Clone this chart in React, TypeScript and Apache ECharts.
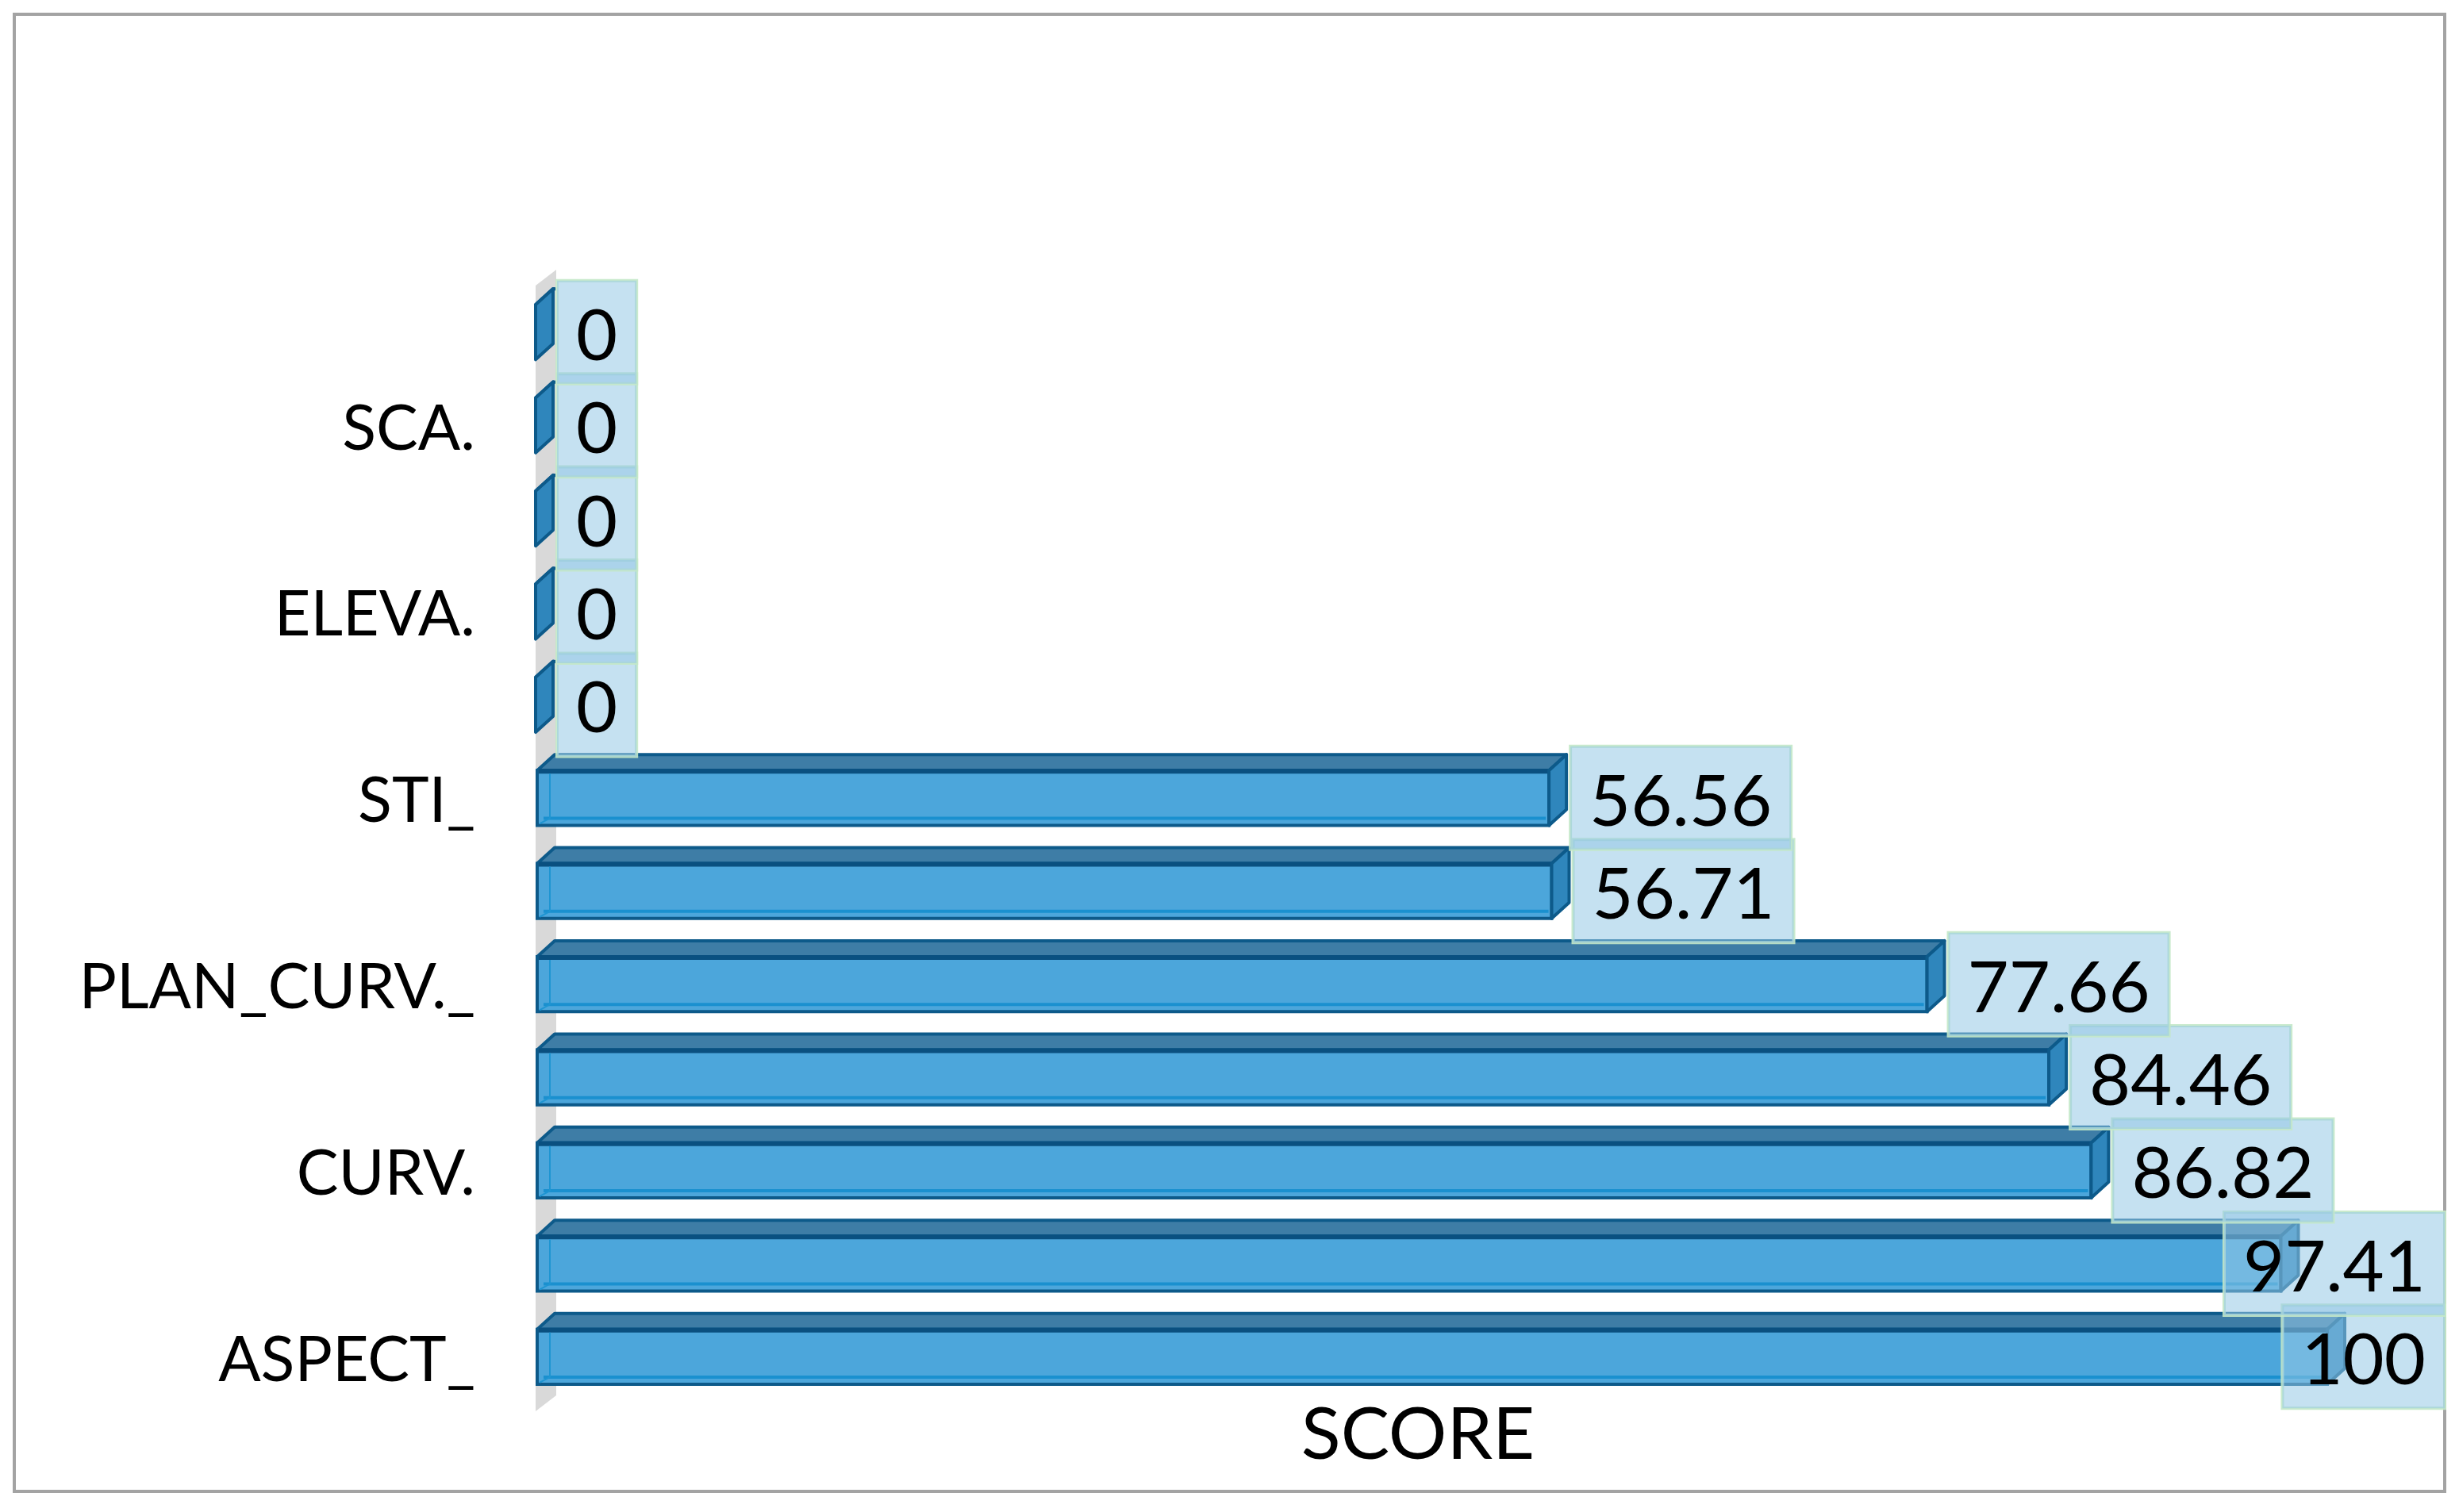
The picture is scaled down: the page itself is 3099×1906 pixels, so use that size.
import React, { useEffect, useRef } from "react";
import * as echarts from "echarts";

const CATEGORIES = ["ASPECT_", "", "CURV.", "", "PLAN_CURV._", "", "STI_", "", "ELEVA.", "", "SCA.", ""];
const SCORES = [100, 97.41, 86.82, 84.46, 77.66, 56.71, 56.56, 0, 0, 0, 0, 0];
const AXIS_NAME = "SCORE";

const FONT = "Lato";
const DX = 22;
const DY = 20;
const DARK = "#0d5a8a";
const LABEL_FONT_SIZE = 90;

let measureCtx: CanvasRenderingContext2D | null = null;
function measure(text: string): number {
  if (!measureCtx) {
    const c = document.createElement("canvas");
    measureCtx = c.getContext("2d");
  }
  if (!measureCtx) return text.length * LABEL_FONT_SIZE * 0.55;
  measureCtx.font = `${LABEL_FONT_SIZE}px ${FONT}`;
  return measureCtx.measureText(text).width;
}

export default function App() {
  const ref = useRef<HTMLDivElement>(null);

  useEffect(() => {
    document.body.style.margin = "0";
    if (!ref.current) return;
    const chart = echarts.init(ref.current, null, { renderer: "svg" });

    const data = SCORES.map((v, i) => [v, i]);

    const barItem = (params: any, api: any) => {
      const i = api.value(1);
      const v = api.value(0);
      const p1 = api.coord([v, i]);
      const p0 = api.coord([0, i]);
      const x0 = p0[0] + 2;
      const x1 = p1[0];
      const yc = p1[1];
      const band = api.size([0, 1])[1];
      const h = band * 0.59;
      const top = yc - h / 2;
      const bot = yc + h / 2;
      const children: any[] = [];
      children.push({
        type: "polygon",
        shape: { points: [[x0, top], [x0 + DX, top - DY], [x1 + DX, top - DY], [x1, top]] },
        style: { fill: "#3e7da6", stroke: DARK, lineWidth: 4, lineJoin: "round" },
      });
      if (x1 - x0 > 0.5) {
        children.push({
          type: "rect",
          shape: { x: x0, y: top, width: x1 - x0, height: h },
          style: { fill: "#4ca6db", stroke: DARK, lineWidth: 4 },
        });
        children.push({
          type: "line",
          shape: { x1: x0 + 2, y1: top + 1, x2: x1, y2: top + 1 },
          style: { stroke: "#0a5080", lineWidth: 6 },
        });
        children.push({
          type: "line",
          shape: { x1: x0 + 8, y1: bot - 9, x2: x1 - 4, y2: bot - 9 },
          style: { stroke: "#1a90cf", lineWidth: 4 },
        });
        children.push({
          type: "polyline",
          shape: { points: [[x0 + 16, top + 4], [x0 + 16, bot - 9], [x0 + 3, bot - 2]] },
          style: { stroke: "#1e95d2", lineWidth: 2, fill: null },
        });
      }
      children.push({
        type: "polygon",
        shape: { points: [[x1, top], [x1 + DX, top - DY], [x1 + DX, bot - DY], [x1, bot]] },
        style: { fill: "#2f86bc", stroke: DARK, lineWidth: 4, lineJoin: "round" },
      });
      return { type: "group", children };
    };

    const wallItem = (params: any) => {
      const cs = params.coordSys;
      const x = cs.x;
      const t = cs.y;
      const b = cs.y + cs.height + 10;
      return {
        type: "polygon",
        shape: { points: [[x, t], [x + DX + 4, t - DY], [x + DX + 4, b - DY], [x, b]] },
        style: { fill: "#d9d9d9" },
      };
    };

    const labelItem = (params: any, api: any) => {
      const i = api.value(1);
      const v = api.value(0);
      const p1 = api.coord([v, i]);
      const cs = params.coordSys;
      const txt = String(v);
      const w = measure(txt);
      const padX = 24;
      const padY = 20;
      let left = p1[0] + DX + 5;
      const limit = cs.x + cs.width + 148;
      if (left + w + 2 * padX > limit) left = limit - w - 2 * padX;
      return {
        type: "text",
        style: {
          text: txt,
          x: left,
          y: p1[1],
          align: "left",
          verticalAlign: "middle",
          fontSize: LABEL_FONT_SIZE,
          fontFamily: FONT,
          fill: "#000",
          backgroundColor: "rgba(150,200,230,0.55)",
          borderColor: "rgba(195,232,200,0.9)",
          borderWidth: 2,
          padding: [padY, padX, padY, padX],
        },
      };
    };

    chart.setOption({
      animation: false,
      backgroundColor: "#ffffff",
      graphic: [
        {
          type: "rect",
          shape: { x: 18, y: 18, width: 3063, height: 1862 },
          style: { fill: "none", stroke: "#a3a3a3", lineWidth: 4 },
          z: 0,
        },
      ],
      grid: { left: 675, right: 166, top: 360, bottom: 137, containLabel: false },
      xAxis: {
        type: "value",
        min: 0,
        max: 100,
        axisLine: { show: false },
        axisTick: { show: false },
        axisLabel: { show: false },
        splitLine: { show: false },
        name: AXIS_NAME,
        nameLocation: "middle",
        nameGap: -12,
        nameTextStyle: { fontSize: 92, fontFamily: FONT, color: "#000", padding: [0, 34, 0, 0] },
      },
      yAxis: {
        type: "category",
        data: CATEGORIES,
        axisLine: { show: false },
        axisTick: { show: false },
        splitLine: { show: false },
        axisLabel: {
          interval: 0,
          fontSize: 79,
          fontFamily: FONT,
          color: "#000",
          margin: 76,
          padding: [20, 0, 0, 0],
        },
      },
      series: [
        {
          type: "custom",
          name: "wall",
          data: [[0, 0]],
          encode: { x: 0, y: 1 },
          renderItem: wallItem,
          clip: false,
          z: 1,
          silent: true,
        },
        {
          type: "custom",
          name: "bars",
          data,
          encode: { x: 0, y: 1 },
          renderItem: barItem,
          clip: false,
          z: 2,
        },
        {
          type: "custom",
          name: "labels",
          data,
          encode: { x: 0, y: 1 },
          renderItem: labelItem,
          clip: false,
          z: 3,
        },
      ],
    });

    return () => chart.dispose();
  }, []);

  return (
    <div
      ref={ref}
      style={{ position: "absolute", left: 0, top: 0, width: 3099, height: 1906 }}
    />
  );
}
